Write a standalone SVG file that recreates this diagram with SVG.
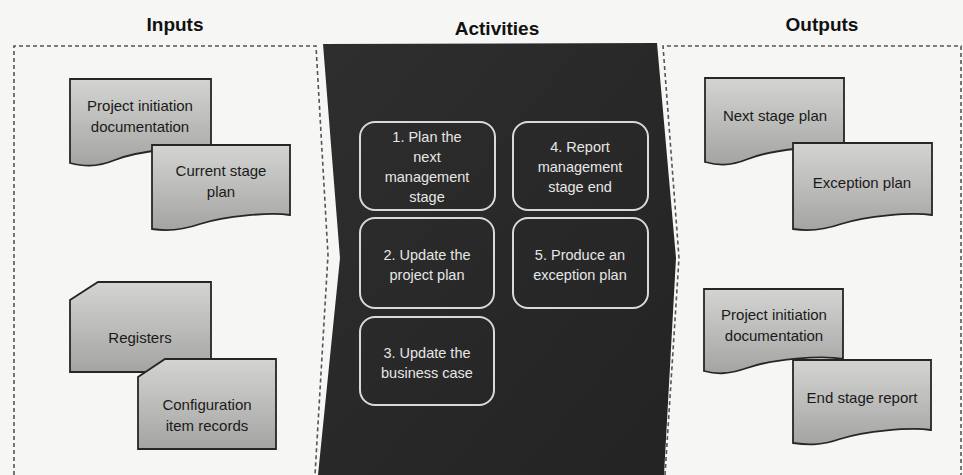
<svg xmlns="http://www.w3.org/2000/svg" width="963" height="475" viewBox="0 0 963 475">
  <defs>
    <linearGradient id="docGrad" x1="0" y1="0" x2="0" y2="1">
      <stop offset="0" stop-color="#d4d4d2"/>
      <stop offset="1" stop-color="#a4a4a2"/>
    </linearGradient>
    <linearGradient id="darkGrad" x1="0" y1="0" x2="1" y2="1">
      <stop offset="0" stop-color="#2e2e2e"/>
      <stop offset="1" stop-color="#232323"/>
    </linearGradient>
  </defs>
  <style>
    .title { font-family: "Liberation Sans", Arial, sans-serif; font-weight: bold; font-size: 19px; fill: #111; text-anchor: middle; }
    .frame { fill: none; stroke: #555; stroke-width: 1.6; stroke-dasharray: 4 3; }
    .doc { fill: url(#docGrad); stroke: #262626; stroke-width: 1.8; }
    .dtext { font-family: "Liberation Sans", Arial, sans-serif; font-size: 15px; fill: #1a1a1a; text-anchor: middle; }
    .act { fill: none; stroke: #d9d9d9; stroke-width: 2; }
    .atext { font-family: "Liberation Sans", Arial, sans-serif; font-size: 14.5px; fill: #e6e6e6; text-anchor: middle; }
  </style>
  <rect x="0" y="0" width="963" height="475" fill="#f6f6f5"/>

  <!-- titles -->
  <text class="title" x="175" y="31">Inputs</text>
  <text class="title" x="497" y="35">Activities</text>
  <text class="title" x="822" y="31">Outputs</text>

  <!-- frames -->
  <path class="frame" d="M14,475 V46 H316 L328,255 L315,475"/>
  <path class="frame" d="M665,475 L679,258 L663,46 H961 V475"/>
  <path id="activities-area" d="M323,44 L657,43 L676,258 L664,475 L318,475 L340,258 Z" fill="url(#darkGrad)"/>

  <!-- Inputs -->
  <g id="in-pid">
    <path class="doc" d="M70,79 H211 V150 C190,146 140,150 115,160 C95,168 82,166 70,163 Z"/>
    <text class="dtext" x="140" y="111">Project initiation</text>
    <text class="dtext" x="140" y="132">documentation</text>
  </g>
  <g id="in-csp">
    <path class="doc" d="M152,145 H290 V215 C270,212 225,216 200,224 C180,231 165,231 152,229 Z"/>
    <text class="dtext" x="221" y="176">Current stage</text>
    <text class="dtext" x="221" y="197">plan</text>
  </g>
  <g id="in-registers">
    <path class="doc" d="M98,282 H211 V372 H70 V300 Z"/>
    <text class="dtext" x="140" y="343">Registers</text>
  </g>
  <g id="in-cir">
    <path class="doc" d="M165,359 H276 V449 H138 V377 Z"/>
    <text class="dtext" x="207" y="410">Configuration</text>
    <text class="dtext" x="207" y="431">item records</text>
  </g>

  <!-- Activities -->
  <g id="act1">
    <rect class="act" x="360" y="122" width="135" height="88" rx="15"/>
    <text class="atext" x="427" y="142">1. Plan the</text>
    <text class="atext" x="427" y="162">next</text>
    <text class="atext" x="427" y="182">management</text>
    <text class="atext" x="427" y="202">stage</text>
  </g>
  <g id="act4">
    <rect class="act" x="513" y="122" width="135" height="88" rx="15"/>
    <text class="atext" x="580" y="152">4. Report</text>
    <text class="atext" x="580" y="172">management</text>
    <text class="atext" x="580" y="192">stage end</text>
  </g>
  <g id="act2">
    <rect class="act" x="360" y="218" width="134" height="90" rx="15"/>
    <text class="atext" x="427" y="260">2. Update the</text>
    <text class="atext" x="427" y="280">project plan</text>
  </g>
  <g id="act5">
    <rect class="act" x="513" y="218" width="135" height="90" rx="15"/>
    <text class="atext" x="580" y="260">5. Produce an</text>
    <text class="atext" x="580" y="280">exception plan</text>
  </g>
  <g id="act3">
    <rect class="act" x="360" y="317" width="134" height="88" rx="15"/>
    <text class="atext" x="427" y="358">3. Update the</text>
    <text class="atext" x="427" y="378">business case</text>
  </g>

  <!-- Outputs -->
  <g id="out-nsp">
    <path class="doc" d="M705,78 H844 V149 C823,145 773,149 748,159 C728,167 716,165 705,162 Z"/>
    <text class="dtext" x="775" y="121">Next stage plan</text>
  </g>
  <g id="out-ep">
    <path class="doc" d="M793,143 H932 V215 C911,212 866,216 841,224 C821,231 806,231 793,229 Z"/>
    <text class="dtext" x="862" y="188">Exception plan</text>
  </g>
  <g id="out-pid">
    <path class="doc" d="M704,289 H843 V359 C822,355 772,359 747,368 C727,375 715,374 704,371 Z"/>
    <text class="dtext" x="774" y="320">Project initiation</text>
    <text class="dtext" x="774" y="341">documentation</text>
  </g>
  <g id="out-esr">
    <path class="doc" d="M793,360 H931 V430 C910,427 865,431 840,439 C820,446 806,445 793,443 Z"/>
    <text class="dtext" x="862" y="403">End stage report</text>
  </g>

  <g id="connectors"></g>
</svg>
